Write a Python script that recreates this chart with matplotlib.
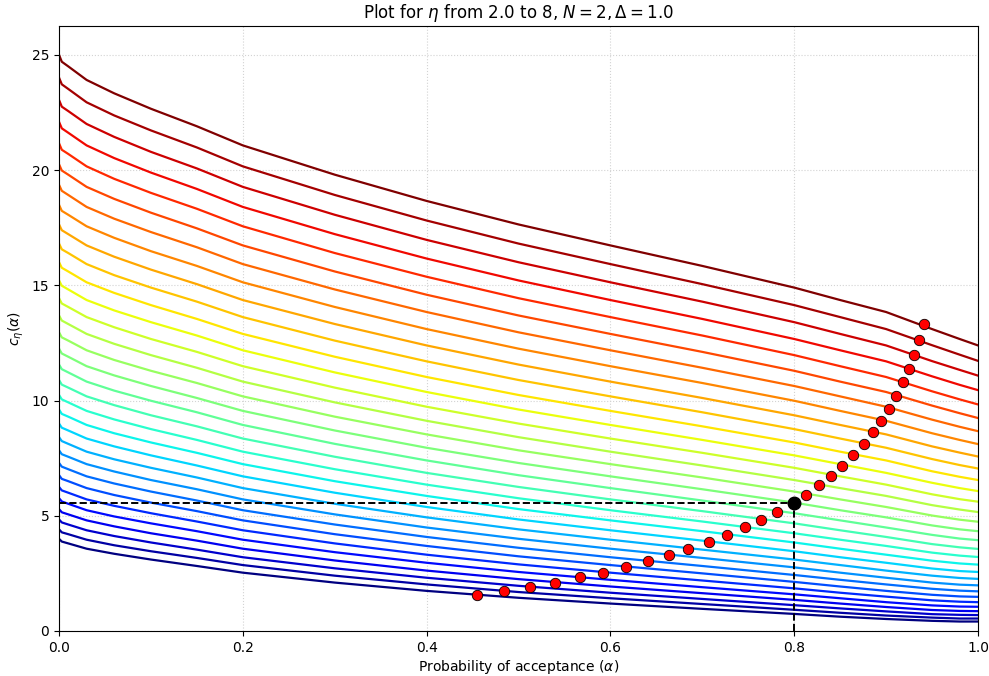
import numpy as np
import matplotlib
matplotlib.use("Agg")
import matplotlib.pyplot as plt

# eta values, one curve each (2.0 .. 8.0 step 0.2)
eta_values = [2.0, 2.2, 2.4, 2.6, 2.8, 3.0, 3.2, 3.4, 3.6, 3.8, 4.0, 4.2, 4.4, 4.6, 4.8,
              5.0, 5.2, 5.4, 5.6, 5.8, 6.0, 6.2, 6.4, 6.6, 6.8, 7.0, 7.2, 7.4, 7.6, 7.8, 8.0]

# alpha positions where the curves were read
alpha_grid = [0.0, 0.003, 0.01, 0.03, 0.06, 0.1, 0.15, 0.2, 0.3, 0.4, 0.5, 0.6, 0.7, 0.8,
              0.85, 0.9, 0.95, 0.98, 1.0]

# c_eta(alpha), one list per alpha (curves from eta=2 to eta=8)
c_columns = [
    [4.00, 4.41, 4.84, 5.29, 5.76, 6.25, 6.76, 7.29, 7.84, 8.41, 9.00, 9.61, 10.24, 10.89, 11.56, 12.25, 12.96, 13.69, 14.44, 15.21, 16.00, 16.81, 17.64, 18.49, 19.36, 20.25, 21.16, 22.09, 23.04, 24.01, 25.00],
    [3.88, 4.28, 4.71, 5.15, 5.62, 6.10, 6.60, 7.13, 7.67, 8.24, 8.82, 9.42, 10.05, 10.69, 11.36, 12.04, 12.74, 13.47, 14.21, 14.98, 15.76, 16.56, 17.39, 18.23, 19.10, 19.98, 20.88, 21.81, 22.75, 23.72, 24.70],
    [3.80, 4.20, 4.62, 5.06, 5.52, 6.00, 6.50, 7.02, 7.56, 8.12, 8.70, 9.30, 9.92, 10.56, 11.22, 11.90, 12.60, 13.32, 14.06, 14.82, 15.60, 16.40, 17.22, 18.06, 18.92, 19.80, 20.70, 21.62, 22.56, 23.52, 24.50],
    [3.57, 3.96, 4.37, 4.80, 5.24, 5.71, 6.20, 6.71, 7.24, 7.78, 8.35, 8.94, 9.55, 10.18, 10.82, 11.49, 12.18, 12.89, 13.62, 14.36, 15.13, 15.92, 16.73, 17.56, 18.40, 19.27, 20.16, 21.07, 22.00, 22.94, 23.91],
    [3.35, 3.72, 4.12, 4.54, 4.97, 5.43, 5.90, 6.40, 6.92, 7.45, 8.01, 8.58, 9.18, 9.80, 10.43, 11.09, 11.76, 12.46, 13.18, 13.91, 14.67, 15.44, 16.24, 17.06, 17.89, 18.75, 19.62, 20.52, 21.44, 22.37, 23.33],
    [3.10, 3.46, 3.84, 4.24, 4.67, 5.11, 5.57, 6.05, 6.55, 7.08, 7.62, 8.18, 8.76, 9.36, 9.99, 10.63, 11.29, 11.97, 12.67, 13.40, 14.14, 14.90, 15.68, 16.48, 17.31, 18.15, 19.01, 19.89, 20.79, 21.72, 22.66],
    [2.82, 3.17, 3.53, 3.92, 4.33, 4.75, 5.20, 5.66, 6.15, 6.66, 7.18, 7.73, 8.29, 8.88, 9.49, 10.11, 10.76, 11.42, 12.11, 12.82, 13.54, 14.29, 15.05, 15.84, 16.65, 17.47, 18.32, 19.18, 20.07, 20.98, 21.90],
    [2.53, 2.86, 3.20, 3.57, 3.96, 4.37, 4.80, 5.24, 5.71, 6.20, 6.71, 7.24, 7.78, 8.35, 8.94, 9.55, 10.18, 10.82, 11.49, 12.18, 12.89, 13.62, 14.36, 15.13, 15.92, 16.73, 17.56, 18.40, 19.27, 20.16, 21.07],
    [2.10, 2.40, 2.72, 3.06, 3.42, 3.80, 4.20, 4.62, 5.06, 5.52, 6.00, 6.50, 7.02, 7.56, 8.12, 8.70, 9.30, 9.92, 10.56, 11.22, 11.90, 12.60, 13.32, 14.06, 14.82, 15.60, 16.40, 17.22, 18.06, 18.92, 19.80],
    [1.74, 2.02, 2.31, 2.62, 2.96, 3.31, 3.69, 4.08, 4.49, 4.93, 5.38, 5.86, 6.35, 6.86, 7.40, 7.95, 8.53, 9.12, 9.73, 10.37, 11.02, 11.70, 12.39, 13.10, 13.84, 14.59, 15.37, 16.16, 16.97, 17.81, 18.66],
    [1.44, 1.69, 1.96, 2.25, 2.56, 2.89, 3.24, 3.61, 4.00, 4.41, 4.84, 5.29, 5.76, 6.25, 6.76, 7.29, 7.84, 8.41, 9.00, 9.61, 10.24, 10.89, 11.56, 12.25, 12.96, 13.69, 14.44, 15.21, 16.00, 16.81, 17.64],
    [1.19, 1.42, 1.66, 1.93, 2.22, 2.53, 2.86, 3.20, 3.57, 3.96, 4.37, 4.80, 5.24, 5.71, 6.20, 6.71, 7.24, 7.78, 8.35, 8.94, 9.55, 10.18, 10.82, 11.49, 12.18, 12.89, 13.62, 14.36, 15.13, 15.92, 16.73],
    [0.96, 1.17, 1.39, 1.64, 1.90, 2.19, 2.50, 2.82, 3.17, 3.53, 3.92, 4.33, 4.75, 5.20, 5.66, 6.15, 6.66, 7.18, 7.73, 8.29, 8.88, 9.49, 10.11, 10.76, 11.42, 12.11, 12.82, 13.54, 14.29, 15.05, 15.84],
    [0.74, 0.92, 1.12, 1.35, 1.59, 1.85, 2.13, 2.43, 2.76, 3.10, 3.46, 3.84, 4.24, 4.67, 5.11, 5.57, 6.05, 6.55, 7.08, 7.62, 8.18, 8.76, 9.36, 9.99, 10.63, 11.29, 11.97, 12.67, 13.40, 14.14, 14.90],
    [0.62, 0.79, 0.98, 1.19, 1.42, 1.66, 1.93, 2.22, 2.53, 2.86, 3.20, 3.57, 3.96, 4.37, 4.80, 5.24, 5.71, 6.20, 6.71, 7.24, 7.78, 8.35, 8.94, 9.55, 10.18, 10.82, 11.49, 12.18, 12.89, 13.62, 14.36],
    [0.52, 0.67, 0.85, 1.04, 1.25, 1.49, 1.74, 2.02, 2.31, 2.62, 2.96, 3.31, 3.69, 4.08, 4.49, 4.93, 5.38, 5.86, 6.35, 6.86, 7.40, 7.95, 8.53, 9.12, 9.73, 10.37, 11.02, 11.70, 12.39, 13.10, 13.84],
    [0.44, 0.58, 0.73, 0.91, 1.11, 1.33, 1.57, 1.83, 2.10, 2.40, 2.71, 3.05, 3.40, 3.77, 4.17, 4.58, 5.01, 5.46, 5.93, 6.43, 6.93, 7.46, 8.01, 8.58, 9.17, 9.78, 10.40, 11.05, 11.71, 12.40, 13.10],
    [0.41, 0.54, 0.70, 0.87, 1.06, 1.27, 1.50, 1.75, 2.01, 2.30, 2.60, 2.93, 3.27, 3.63, 4.01, 4.41, 4.83, 5.27, 5.72, 6.20, 6.69, 7.20, 7.74, 8.29, 8.86, 9.45, 10.05, 10.68, 11.33, 11.99, 12.67],
    [0.41, 0.54, 0.69, 0.86, 1.05, 1.25, 1.48, 1.72, 1.98, 2.26, 2.56, 2.88, 3.21, 3.56, 3.94, 4.33, 4.74, 5.16, 5.61, 6.07, 6.55, 7.05, 7.57, 8.11, 8.67, 9.24, 9.83, 10.45, 11.08, 11.72, 12.39],
]

# red marker on each curve
dot_alpha = [0.455, 0.484, 0.513, 0.540, 0.567, 0.592, 0.617, 0.641, 0.664, 0.684, 0.707,
             0.727, 0.746, 0.764, 0.781, 0.799, 0.813, 0.827, 0.840, 0.852, 0.864, 0.876,
             0.886, 0.894, 0.903, 0.911, 0.918, 0.925, 0.930, 0.936, 0.941]
dot_c = [1.56, 1.74, 1.91, 2.08, 2.34, 2.52, 2.78, 3.04, 3.30, 3.56, 3.86,
         4.17, 4.51, 4.82, 5.16, 5.56, 5.90, 6.34, 6.73, 7.16, 7.64, 8.12,
         8.64, 9.11, 9.64, 10.20, 10.81, 11.37, 11.98, 12.63, 13.32]

# highlighted point
alpha_star = 0.8
c_star = 5.56

curves = np.array(c_columns).T
colors = plt.cm.jet(np.linspace(0, 1, len(eta_values)))

fig = plt.figure(figsize=(9.89, 6.76), dpi=100)
ax = fig.add_axes([0.0597, 0.0666, 0.9292, 0.8949])

for i, eta in enumerate(eta_values):
    ax.plot(alpha_grid, curves[i], color=colors[i], lw=1.6)

ax.plot([0, alpha_star], [c_star, c_star], 'k--', lw=1.4)
ax.plot([alpha_star, alpha_star], [0, c_star], 'k--', lw=1.4)

ax.plot(dot_alpha, dot_c, 'o', color='red', markeredgecolor='black',
        markeredgewidth=0.6, markersize=7.5, zorder=5)
ax.plot([alpha_star], [c_star], 'o', color='black', markersize=9, zorder=6)

ax.set_xlim(0, 1)
ax.set_ylim(0, 26.25)
ax.set_title(r'Plot for $\eta$ from 2.0 to 8, $N = 2, \Delta = 1.0$')
ax.set_xlabel(r'Probability of acceptance ($\alpha$)', labelpad=2.5)
ax.set_ylabel(r'$c_\eta(\alpha)$')
ax.grid(True, linestyle=':', color='lightgray')

fig.savefig('out.png', dpi=100)
